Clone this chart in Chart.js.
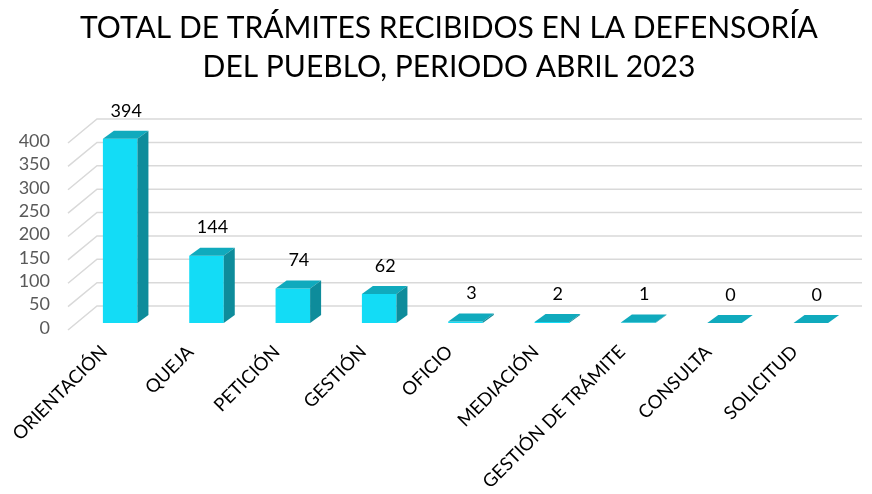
<!DOCTYPE html>
<html>
<head>
<meta charset="utf-8">
<script src="https://cdn.jsdelivr.net/npm/chart.js@4"></script>
<style>
html, body { margin: 0; padding: 0; background: #fff; }
#wrap { width: 872px; height: 494px; }
</style>
</head>
<body>
<div id="wrap"><canvas id="canvas"></canvas></div>
<script>
/* datos */
const titulo = ['TOTAL DE TRÁMITES RECIBIDOS EN LA DEFENSORÍA', 'DEL PUEBLO, PERIODO ABRIL 2023'];
const tramites = ['ORIENTACIÓN', 'QUEJA', 'PETICIÓN', 'GESTIÓN', 'OFICIO', 'MEDIACIÓN', 'GESTIÓN DE TRÁMITE', 'CONSULTA', 'SOLICITUD'];
const cantidad = [394, 144, 74, 62, 3, 2, 1, 0, 0];
const ejeY = [0, 50, 100, 150, 200, 250, 300, 350, 400];

const fuente = 'Lato, "Open Sans", sans-serif';

/* efecto 3D: paredes, caras de las barras y etiquetas */
const fondo3d = {
    id: 'fondo3d',
    beforeDatasetsDraw(chart) {
        const ctx = chart.ctx;
        const area = chart.chartArea;
        const y = chart.scales.y;
        ctx.save();
        ctx.strokeStyle = '#D9D9D9';
        ctx.lineWidth = 1.5;
        ejeY.forEach(v => {
            const py = y.getPixelForValue(v);
            ctx.beginPath();
            ctx.moveTo(area.left - 9, py + 7);
            ctx.lineTo(area.left + 20, py - 17);
            ctx.lineTo(area.right + 8, py - 17);
            ctx.stroke();
        });
        ctx.fillStyle = '#595959';
        ctx.font = '18px ' + fuente;
        ctx.textAlign = 'right';
        ctx.textBaseline = 'middle';
        ejeY.forEach(v => {
            ctx.fillText(v, 50, y.getPixelForValue(v) + 5);
        });
        ctx.restore();
    },
    afterDatasetsDraw(chart) {
        const ctx = chart.ctx;
        const meta = chart.getDatasetMeta(0);
        const dx = 11, dy = -8;
        ctx.save();
        meta.data.forEach((bar, i) => {
            const p = bar.getProps(['x', 'y', 'base', 'width'], true);
            const l = p.x - p.width / 2;
            const r = p.x + p.width / 2;
            // cara superior
            ctx.fillStyle = '#10AABD';
            ctx.beginPath();
            ctx.moveTo(l, p.y);
            ctx.lineTo(r, p.y);
            ctx.lineTo(r + dx, p.y + dy);
            ctx.lineTo(l + dx, p.y + dy);
            ctx.closePath();
            ctx.fill();
            // cara lateral
            ctx.fillStyle = '#0E8C9B';
            ctx.beginPath();
            ctx.moveTo(r, p.y);
            ctx.lineTo(r + dx, p.y + dy);
            ctx.lineTo(r + dx, p.base + dy);
            ctx.lineTo(r, p.base);
            ctx.closePath();
            ctx.fill();
            // etiqueta
            ctx.fillStyle = '#000';
            ctx.font = '18px ' + fuente;
            ctx.textAlign = 'center';
            ctx.textBaseline = 'middle';
            ctx.fillText(cantidad[i], p.x + 6, p.y - 28);
        });
        ctx.restore();
    }
};

const ctx = document.getElementById('canvas');
new Chart(ctx, {
    type: 'bar',
    data: {
        labels: tramites,
        datasets: [{
            label: 'Trámites',
            data: cantidad,
            backgroundColor: '#13DCF6',
            borderWidth: 0,
            categoryPercentage: 1,
            barPercentage: 0.4
        }]
    },
    options: {
        responsive: true,
        maintainAspectRatio: false,
        animation: false,
        layout: {
            padding: { left: 44, right: 18, top: 0, bottom: 0 }
        },
        plugins: {
            legend: { display: false },
            tooltip: { enabled: false },
            title: {
                display: true,
                text: titulo,
                color: '#000',
                font: { family: fuente, size: 30, weight: 'normal', lineHeight: 1.3 },
                padding: { top: 9, bottom: 49 }
            }
        },
        scales: {
            x: {
                grid: { display: false },
                border: { display: false },
                ticks: {
                    color: '#000',
                    font: { family: fuente, size: 18.5 },
                    minRotation: 45,
                    maxRotation: 45,
                    padding: 10,
                    labelOffset: -16
                },
                afterFit: s => { s.height = 171; }
            },
            y: {
                display: true,
                min: 0,
                max: 400,
                grid: { display: false },
                border: { display: false },
                ticks: { display: false },
                afterFit: s => { s.width = 33; }
            }
        }
    },
    plugins: [fondo3d]
});
</script>
</body>
</html>
